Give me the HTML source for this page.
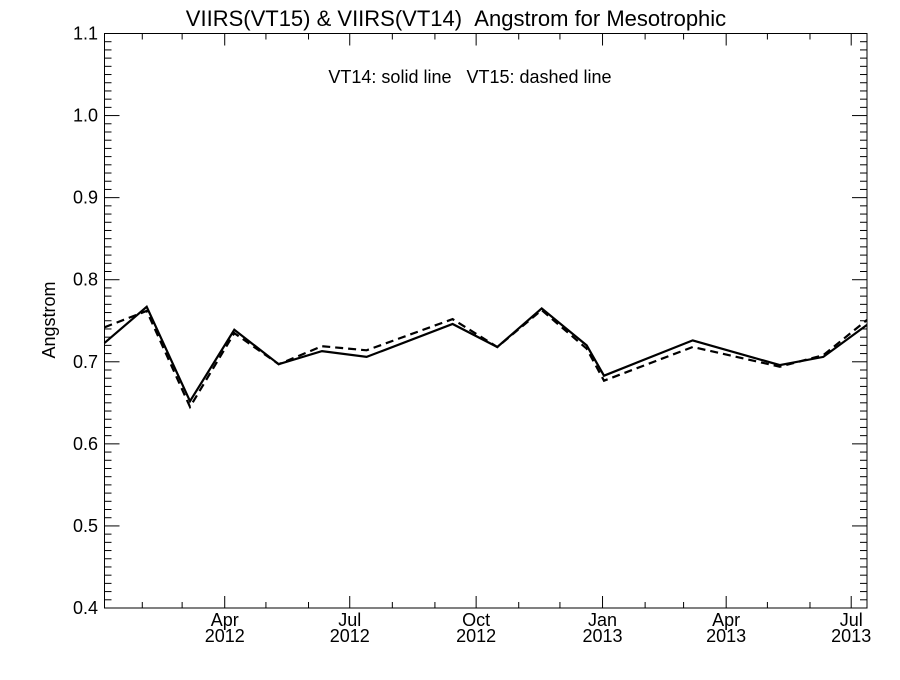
<!DOCTYPE html>
<html><head><meta charset="utf-8"><style>
body{margin:0;background:#fff}
svg text{font-family:"Liberation Sans",sans-serif;fill:#000;white-space:pre}
</style></head><body>
<svg width="900" height="675" xmlns="http://www.w3.org/2000/svg">
<rect width="900" height="675" fill="#fff"/>
<text x="456" y="26" font-size="22" text-anchor="middle">VIIRS(VT15) &amp; VIIRS(VT14)&#160;&#160;Angstrom for Mesotrophic</text>
<text x="470" y="83" font-size="18" text-anchor="middle">VT14: solid line&#160;&#160;&#160;VT15: dashed line</text>
<text transform="translate(55,320) rotate(-90)" font-size="18" text-anchor="middle">Angstrom</text>
<g id="axes"></g>
<g id="series"></g>
</svg>
<script>
const days = [3.5,34.2,65.7,98,130.3,161.8,194.3,256.9,289.4,321.7,354.5,367.1,431.6,495,526.7,558.5];
const vt14 = [0.723,0.767,0.652,0.739,0.697,0.713,0.706,0.746,0.718,0.765,0.720,0.683,0.726,0.696,0.706,0.745];
const vt15 = [0.742,0.762,0.645,0.735,0.697,0.719,0.714,0.752,0.718,0.763,0.716,0.677,0.718,0.694,0.708,0.751];
const yTicks = ["0.4","0.5","0.6","0.7","0.8","0.9","1.0","1.1"];
const monthNames = ["Jan","Feb","Mar","Apr","May","Jun","Jul","Aug","Sep","Oct","Nov","Dec"];

const L=104.5,R=867,T=33.5,B=608,D0=3.5,D1=558.5,Y0=0.4,Y1=1.1;
const sx=d=>L+(d-D0)/(D1-D0)*(R-L);
const sy=v=>B-(v-Y0)/(Y1-Y0)*(B-T);
const NS="http://www.w3.org/2000/svg";
const ax=document.getElementById('axes'), se=document.getElementById('series');
function mk(tag,at,p){const e=document.createElementNS(NS,tag);for(const k in at)e.setAttribute(k,at[k]);p.appendChild(e);return e;}
const frame=mk('rect',{x:L,y:T,width:R-L,height:B-T,fill:'none',stroke:'#000','stroke-width':1},ax);


for(let i=0;i<=70;i++){
  const v=Y0+i*0.01,y=sy(v),len=i%10==0?15:7;
  mk('line',{x1:L,x2:L+len,y1:y,y2:y,stroke:'#000'},ax);
  mk('line',{x1:R,x2:R-len,y1:y,y2:y,stroke:'#000'},ax);
}
yTicks.forEach(t=>{
  const e=mk('text',{x:98,y:sy(parseFloat(t))+6,'font-size':18,'text-anchor':'end'},ax);
  e.textContent=t;
  
  
});
const base=new Date(Date.UTC(2012,0,1));
for(let m=1;m<20;m++){
  const dt=new Date(Date.UTC(2012,m,1));
  const d=(dt-base)/864e5;
  if(d<D0||d>D1)continue;
  const x=sx(d),major=dt.getUTCMonth()%3==0,len=major?12:6;
  mk('line',{x1:x,x2:x,y1:B,y2:B-len,stroke:'#000'},ax);
  mk('line',{x1:x,x2:x,y1:T,y2:T+len,stroke:'#000'},ax);
  if(major){
    const a=mk('text',{x:x,y:626,'font-size':18,'text-anchor':'middle'},ax);
    a.textContent=monthNames[dt.getUTCMonth()];
    
    
    const b=mk('text',{x:x,y:642,'font-size':18,'text-anchor':'middle'},ax);
    b.textContent=String(dt.getUTCFullYear());
    
    
  }
}
function line(vals,dash,name){
  const pts=days.map((d,i)=>sx(d).toFixed(1)+','+sy(vals[i]).toFixed(1)).join(' ');
  const p=mk('polyline',{points:pts,fill:'none',stroke:'#000','stroke-width':2.2},se);
  if(dash)p.setAttribute('stroke-dasharray','8,5');
  
  
}
line(vt14,false,'vt14-solid-line');
line(vt15,true,'vt15-dashed-line');
</script>
</body></html>
